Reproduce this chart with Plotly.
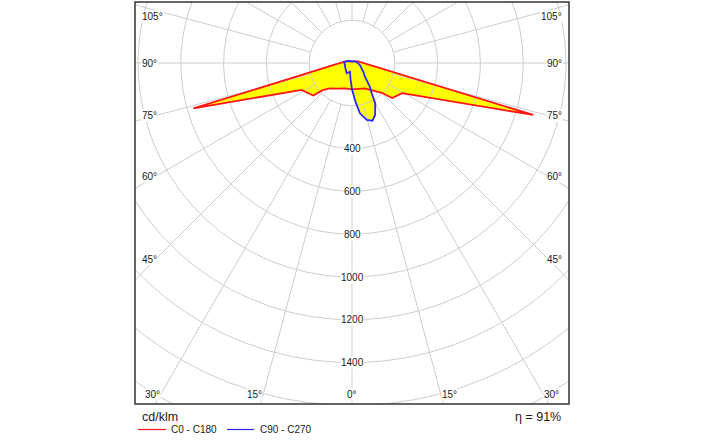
import numpy as np
import plotly.graph_objects as go

# ---------------- data (cd/klm, gamma angle in degrees from nadir) ----------------
# C0 - C180 plane (red): right half = C0, left half = C180
gamma_c0 = [0, 15, 27, 34, 45, 49, 59, 74, 80, 85, 90, 95, 99, 105, 120, 150, 180]
cd_c0 = [123, 124, 133, 152, 197, 249, 273, 881, 136, 80, 57, 45, 38, 30, 15, 8, 6]
gamma_c180 = [0, 15, 30, 41, 47, 50, 62, 74, 80, 85, 90, 95, 98.5, 105, 120, 150, 180]
cd_c180 = [123, 123, 138, 157, 184, 236, 267, 771, 131, 78, 56, 43, 38, 30, 15, 8, 6]

# C90 - C270 plane (blue): right half = C90, left half = C270
gamma_c90 = [0, 5, 9, 14.5, 19.5, 24, 26, 30, 33, 37, 43.5, 52.5, 76, 92.5, 105, 135, 180]
cd_c90 = [123, 180, 238, 275, 286, 266, 245, 217, 169, 139, 88, 67, 38, 29, 22, 12, 6]
gamma_c270 = [0, 5, 13, 27, 62, 74, 97, 120, 150, 180]
cd_c270 = [123, 77, 42, 54, 37, 34, 38, 20, 10, 6]

ring_values = [200, 400, 600, 800, 1000, 1200, 1400, 1600, 1800, 2000]
ring_labels = [400, 600, 800, 1000, 1200, 1400]
spoke_step = 15
angle_labels = [0, 15, 30, 45, 60, 75, 90, 105]
unit_label = "cd/klm"
efficiency_label = "η = 91%"
legend_names = ["C0 - C180", "C90 - C270"]

# ---------------- layout geometry ----------------
W, H = 704, 440
ML, MR, MT, MB = 135, 135, 2, 36
S = 0.214          # pixels per cd/klm
CX, CY = 217, 61   # centre offset (px) from plot-area left / top
PW, PH = W - ML - MR, H - MT - MB
x_range = [-CX / S, (PW - CX) / S]
y_range = [-(PH - CY) / S, CY / S]

RED, BLUE, YEL = "#ff1414", "#2828ff", "#ffff00"
GRID = "#cdcdcd"
TXT = "#1a1a1a"
FONT = "Liberation Sans"


def curve(g_left, v_left, g_right, v_right):
    gl = np.radians(np.array(g_left[::-1], float))
    vl = np.array(v_left[::-1], float)
    gr = np.radians(np.array(g_right, float))
    vr = np.array(v_right, float)
    x = np.concatenate([-vl * np.sin(gl), vr * np.sin(gr)])
    y = np.concatenate([-vl * np.cos(gl), -vr * np.cos(gr)])
    return x, y


xr, yr = curve(gamma_c180, cd_c180, gamma_c0, cd_c0)
xb, yb = curve(gamma_c270, cd_c270, gamma_c90, cd_c90)

fig = go.Figure()
# yellow fills
for x, y in [(xr, yr), (xb, yb)]:
    fig.add_trace(go.Scatter(x=x, y=y, mode="lines", fill="toself", fillcolor=YEL,
                             line=dict(width=0, color=YEL), hoverinfo="skip", showlegend=False))

# grid circles
t = np.linspace(0, 2 * np.pi, 721)
gx, gy = [], []
for r in ring_values:
    gx += list(r * np.cos(t)) + [None]
    gy += list(r * np.sin(t)) + [None]
# spokes
r0, r1 = ring_values[0], 2400
for a in range(0, 360, spoke_step):
    ar = np.radians(a)
    gx += [r0 * np.sin(ar), r1 * np.sin(ar), None]
    gy += [-r0 * np.cos(ar), -r1 * np.cos(ar), None]
fig.add_trace(go.Scatter(x=gx, y=gy, mode="lines", line=dict(color=GRID, width=1),
                         hoverinfo="skip", showlegend=False))

# outlines
fig.add_trace(go.Scatter(x=xr, y=yr, mode="lines", line=dict(color=RED, width=1.8),
                         hoverinfo="skip", showlegend=False))
fig.add_trace(go.Scatter(x=xb, y=yb, mode="lines", line=dict(color=BLUE, width=1.8),
                         hoverinfo="skip", showlegend=False))

ann = []
# radial labels on the 0 deg axis
for v in ring_labels:
    ann.append(dict(x=0, y=-v, xref="x", yref="y", text=str(v), showarrow=False,
                    font=dict(family=FONT, size=10, color=TXT), bgcolor="white",
                    borderpad=0, xanchor="center", yanchor="middle"))

# angle labels where spokes meet an inset box
SIDE = 196 / S      # spoke crossing used for vertical placement of side labels
EDGE = 211 / S      # outer text edge of side labels
BOTTOM = 331 / S
TOPMAX = 47 / S
for a in angle_labels:
    ar = np.radians(a)
    side = a >= 90 or (a > 0 and SIDE / np.tan(ar) <= BOTTOM)
    for sgn in ([1] if a == 0 else [-1, 1]):
        if side:
            x = sgn * EDGE
            y = -SIDE / np.tan(ar) if a != 90 else 0.0
            y = min(y, TOPMAX)
            xa = "left" if sgn < 0 else "right"
        else:
            x = sgn * BOTTOM * np.tan(ar)
            y = -BOTTOM
            xa = "center" if a == 0 else ("right" if sgn < 0 else "left")
        ann.append(dict(x=x, y=y, xref="x", yref="y", text=f"{a}°", showarrow=False,
                        font=dict(family=FONT, size=10, color=TXT), bgcolor="white",
                        borderpad=0, xanchor=xa, yanchor="middle"))


def px2paper(px, py):
    return (px - ML) / PW, (H - MB - py) / PH


# footer texts
px_, py_ = px2paper(140, 417)
ann.append(dict(x=px_, y=py_, xref="paper", yref="paper", text=unit_label, showarrow=False,
                font=dict(family=FONT, size=12.5, color=TXT), xanchor="left", yanchor="middle"))
px_, py_ = px2paper(563, 417)
ann.append(dict(x=px_, y=py_, xref="paper", yref="paper", text=efficiency_label, showarrow=False,
                font=dict(family=FONT, size=12.5, color=TXT), xanchor="right", yanchor="middle"))

shapes = [dict(type="rect", xref="paper", yref="paper", x0=0, y0=0, x1=1, y1=1,
               line=dict(color="#333333", width=1.5), layer="above")]
# legend
for (x0, x1, tx), col, name in zip([(138, 166, 169), (227, 254, 257.5)], [RED, BLUE], legend_names):
    a0, b0 = px2paper(x0, 429.5)
    a1, _ = px2paper(x1, 429.5)
    shapes.append(dict(type="line", xref="paper", yref="paper", x0=a0, x1=a1, y0=b0, y1=b0,
                       line=dict(color=col, width=1.2)))
    tp, _ = px2paper(tx, 429.5)
    ann.append(dict(x=tp, y=b0, xref="paper", yref="paper", text=name, showarrow=False,
                    font=dict(family=FONT, size=10, color=TXT), xanchor="left", yanchor="middle"))

fig.update_layout(
    width=W, height=H, margin=dict(l=ML, r=MR, t=MT, b=MB),
    paper_bgcolor="white", plot_bgcolor="white",
    xaxis=dict(range=x_range, showgrid=False, zeroline=False, showticklabels=False,
               ticks="", fixedrange=True),
    yaxis=dict(range=y_range, showgrid=False, zeroline=False, showticklabels=False,
               ticks="", fixedrange=True),
    annotations=ann, shapes=shapes, showlegend=False,
)
fig.write_html("out.html")
